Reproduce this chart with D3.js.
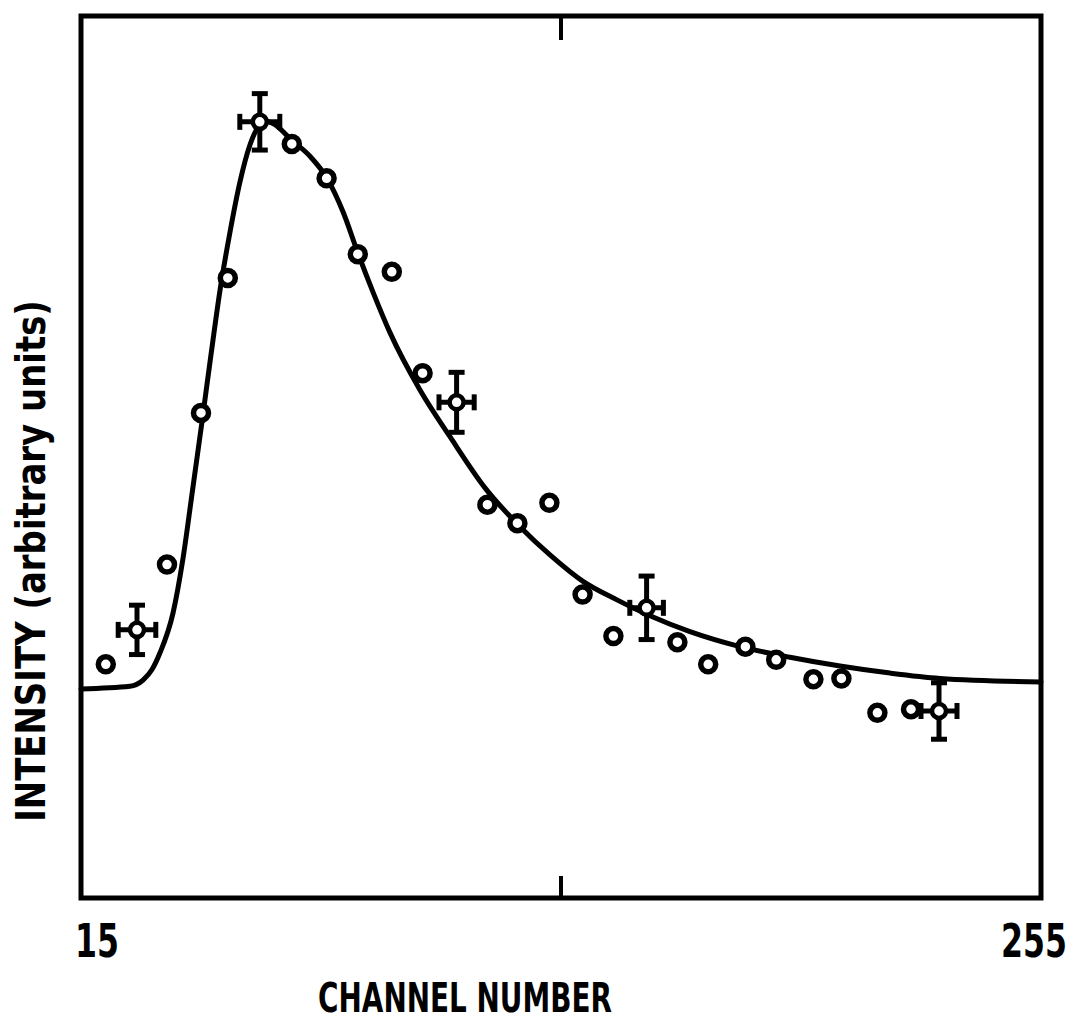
<!DOCTYPE html>
<html>
<head>
<meta charset="utf-8">
<script src="https://cdn.jsdelivr.net/npm/d3@7"></script>
<style>
  html, body { margin: 0; padding: 0; background: #fff; }
  svg { display: block; }
  text { font-family: "DejaVu Sans", "Liberation Sans", sans-serif; font-weight: bold; fill: #000; }
</style>
</head>
<body>
<svg id="chart" width="1076" height="1021"></svg>
<script>
// ---- data (channel number, intensity in arbitrary units 0-100) ----
const pointChannels = [21.2, 29.0, 36.5, 45.0, 51.7, 59.7, 67.7, 76.4, 84.2, 92.7, 100.4, 108.9, 116.6, 124.1, 132.1, 140.4, 148.1, 156.4, 164.1, 171.8, 181.1, 188.8, 198.1, 205.1, 214.1, 222.5, 229.5];
const pointIntensity = [26.5, 30.4, 37.8, 55.0, 70.3, 88.0, 85.5, 81.6, 73.0, 71.0, 59.5, 56.2, 44.6, 42.5, 44.8, 34.4, 29.7, 32.9, 29.0, 26.5, 28.5, 27.0, 24.8, 24.9, 21.0, 21.4, 21.2];
// error bars: index into points, half-width in channels, half-height in intensity
const errIndex = [1, 5, 11, 17, 26];
const errChannel = [4.7, 5.0, 4.4, 4.2, 4.5];
const errIntensity = [2.8, 3.2, 3.4, 3.6, 3.2];
// fitted curve
const fitChannels = [15, 27.25, 30.5, 32.75, 34.75, 38.0, 40.5, 42.75, 45.25, 47.5, 49.75, 52.25, 54.75, 57.25, 59.25, 61.0, 63.0, 67.75, 72.25, 76.5, 80.5, 84.25, 88.0, 92.25, 99.75, 107.25, 116.0, 124.75, 132.25, 140.5, 149.0, 157.25, 167.25, 179.75, 192.25, 204.75, 217.25, 229.75, 255];
const fitIntensity = [23.7, 24.0, 24.7, 25.9, 27.8, 32.3, 38.5, 45.8, 54.0, 61.6, 68.9, 75.5, 81.2, 85.4, 87.4, 88.1, 87.8, 85.9, 84.1, 81.6, 77.8, 73.1, 68.7, 64.1, 57.6, 52.3, 46.5, 42.1, 38.9, 35.9, 33.8, 32.0, 30.2, 28.5, 27.3, 26.3, 25.5, 24.9, 24.5];
const xTickValues = [15, 135, 255];
const xTickLabels = ["15", "", "255"];
const xTitle = "CHANNEL NUMBER";
const yTitle = "INTENSITY (arbitrary units)";

// ---- layout ----
const svg = d3.select("#chart");
const pL = 81, pR = 1041, pT = 16, pB = 898;
const x = d3.scaleLinear().domain([15, 255]).range([pL, pR]);
const y = d3.scaleLinear().domain([0, 100]).range([pB, pT]);

// condensed text helper: draws text at natural size, then squeezes horizontally
function narrowText(parent, str, cx, cy, size, width, rotate) {
  const g = parent.append("g");
  const t = g.append("text").attr("font-size", size).attr("text-anchor", "middle").text(str);
  const len = t.node().getComputedTextLength();
  const sx = width / len;
  g.attr("transform", `translate(${cx},${cy})` + (rotate ? ` rotate(${rotate})` : "") + ` scale(${sx},1)`);
  return g;
}

// frame
svg.append("rect")
  .attr("x", pL).attr("y", pT)
  .attr("width", pR - pL).attr("height", pB - pT)
  .attr("fill", "none").attr("stroke", "#000").attr("stroke-width", 5);

// ticks (inward, only middle)
const tickVals = xTickValues.filter((d, i) => i > 0 && i < xTickValues.length - 1);
svg.selectAll(".tt").data(tickVals).enter().append("line")
  .attr("x1", d => x(d)).attr("x2", d => x(d))
  .attr("y1", pT).attr("y2", pT + 24)
  .attr("stroke", "#000").attr("stroke-width", 4);
svg.selectAll(".bt").data(tickVals).enter().append("line")
  .attr("x1", d => x(d)).attr("x2", d => x(d))
  .attr("y1", pB).attr("y2", pB - 22)
  .attr("stroke", "#000").attr("stroke-width", 4);

// tick labels (narrow bold)
xTickValues.forEach((v, i) => {
  const t = xTickLabels[i];
  if (!t) return;
  const cx = x(v) + (i === 0 ? 16 : -7);
  narrowText(svg, t, cx, 957, 47, t.length * 22);
});

// axis titles
narrowText(svg, xTitle, 465, 1012, 41, 294);
narrowText(svg, yTitle, 45, 561, 40, 522, -90);

// fitted curve
const fit = fitChannels.map((c, i) => [c, fitIntensity[i]]);
const line = d3.line().x(d => x(d[0])).y(d => y(d[1])).curve(d3.curveMonotoneX);
svg.append("path").datum(fit)
  .attr("d", line)
  .attr("fill", "none").attr("stroke", "#000").attr("stroke-width", 5)
  .attr("stroke-linejoin", "round").attr("stroke-linecap", "round");

// data points
const pts = pointChannels.map((c, i) => ({c, v: pointIntensity[i], err: errIndex.indexOf(i)}));
svg.selectAll(".pt").data(pts.filter(d => d.err < 0)).enter().append("circle")
  .attr("cx", d => x(d.c)).attr("cy", d => y(d.v))
  .attr("r", 7.5)
  .attr("fill", "#fff").attr("stroke", "#000").attr("stroke-width", 5.5);

// error-bar points
const eb = pts.filter(d => d.err >= 0).map(d => ({...d, dx: errChannel[d.err], dy: errIntensity[d.err]}));
const g = svg.selectAll(".eb").data(eb).enter().append("g")
  .attr("stroke", "#000").attr("stroke-width", 5);
g.append("line")
  .attr("x1", d => x(d.c)).attr("x2", d => x(d.c))
  .attr("y1", d => y(d.v + d.dy)).attr("y2", d => y(d.v - d.dy));
g.append("line")
  .attr("x1", d => x(d.c - d.dx)).attr("x2", d => x(d.c + d.dx))
  .attr("y1", d => y(d.v)).attr("y2", d => y(d.v));
// caps
g.append("line")
  .attr("x1", d => x(d.c) - 8).attr("x2", d => x(d.c) + 8)
  .attr("y1", d => y(d.v + d.dy)).attr("y2", d => y(d.v + d.dy));
g.append("line")
  .attr("x1", d => x(d.c) - 8).attr("x2", d => x(d.c) + 8)
  .attr("y1", d => y(d.v - d.dy)).attr("y2", d => y(d.v - d.dy));
g.append("line")
  .attr("x1", d => x(d.c - d.dx)).attr("x2", d => x(d.c - d.dx))
  .attr("y1", d => y(d.v) - 8).attr("y2", d => y(d.v) + 8);
g.append("line")
  .attr("x1", d => x(d.c + d.dx)).attr("x2", d => x(d.c + d.dx))
  .attr("y1", d => y(d.v) - 8).attr("y2", d => y(d.v) + 8);
g.append("circle")
  .attr("cx", d => x(d.c)).attr("cy", d => y(d.v))
  .attr("r", 7)
  .attr("fill", "#fff").attr("stroke-width", 4.5);
</script>
</body>
</html>
